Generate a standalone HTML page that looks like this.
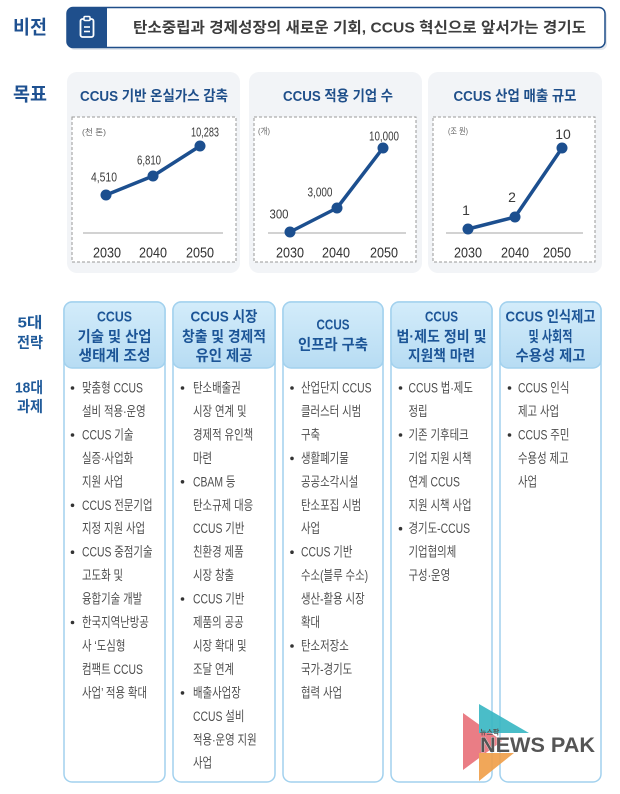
<!DOCTYPE html>
<html><head><meta charset="utf-8">
<style>
html,body{margin:0;padding:0;background:#fff;}
svg{display:block;}
text{font-family:"Liberation Sans","Noto Sans CJK KR",sans-serif;}
</style></head>
<body>
<svg width="620" height="794" viewBox="0 0 620 794" xmlns="http://www.w3.org/2000/svg">
<defs>
<linearGradient id="hg" x1="0" y1="0" x2="0" y2="1">
<stop offset="0" stop-color="#d3ecfa"/><stop offset="1" stop-color="#b7dcf3"/>
</linearGradient>
</defs>
<rect width="620" height="794" fill="#fff"/>

<!-- Vision -->
<text x="13" y="28" font-size="19" font-weight="bold" fill="#1f5191" dominant-baseline="central" textLength="34" lengthAdjust="spacingAndGlyphs">비전</text>
<rect x="69" y="10" width="538" height="40" rx="6" fill="#e4e8ee"/>
<rect x="67" y="7.5" width="538" height="40" rx="6" fill="#fff" stroke="#1f4e89" stroke-width="1.5"/>
<path d="M73,7.5 H107 V47.5 H73 A6,6 0 0 1 67,41.5 V13.5 A6,6 0 0 1 73,7.5 Z" fill="#1f4f8c"/>
<rect x="80.5" y="19" width="13" height="18" rx="2" fill="none" stroke="#fff" stroke-width="1.8"/>
<rect x="84" y="16.5" width="6" height="4" rx="1" fill="#1f4f8c" stroke="#fff" stroke-width="1.5"/>
<line x1="84" y1="27" x2="90" y2="27" stroke="#fff" stroke-width="1.6"/>
<line x1="84" y1="31.5" x2="90" y2="31.5" stroke="#fff" stroke-width="1.6"/>
<text x="133" y="28" font-size="15" font-weight="bold" fill="#3d3d3d" dominant-baseline="central" textLength="453" lengthAdjust="spacingAndGlyphs">탄소중립과 경제성장의 새로운 기회, CCUS 혁신으로 앞서가는 경기도</text>

<!-- Goals -->
<text x="13" y="95" font-size="19" font-weight="bold" fill="#1f5191" dominant-baseline="central" textLength="34" lengthAdjust="spacingAndGlyphs">목표</text>

<!-- Panel 1 -->
<rect x="67" y="72" width="173" height="201" rx="10" fill="#f2f4f7"/>
<text x="154" y="97" font-size="14.5" font-weight="bold" fill="#1f4f8a" text-anchor="middle" dominant-baseline="central" textLength="148" lengthAdjust="spacingAndGlyphs">CCUS 기반 온실가스 감축</text>
<rect x="72" y="117" width="164" height="145" fill="#fff" stroke="#9a9a9a" stroke-width="1" stroke-dasharray="3 2"/>
<text x="82" y="132" font-size="8.5" fill="#666" dominant-baseline="central" textLength="24" lengthAdjust="spacingAndGlyphs">(천 톤)</text>
<line x1="83" y1="233" x2="223" y2="233" stroke="#c4c4c4" stroke-width="1.5"/>
<polyline points="106,195 153,176 200,146" fill="none" stroke="#1c4f8f" stroke-width="3.5" stroke-linejoin="round"/>
<circle cx="106" cy="195" r="5.5" fill="#1c4f8f"/><circle cx="153" cy="176" r="5.5" fill="#1c4f8f"/><circle cx="200" cy="146" r="5.5" fill="#1c4f8f"/>
<g font-size="13" fill="#3a3a3a" text-anchor="middle" dominant-baseline="central">
<text x="104" y="177" textLength="26" lengthAdjust="spacingAndGlyphs">4,510</text>
<text x="149" y="160" textLength="24" lengthAdjust="spacingAndGlyphs">6,810</text>
<text x="205" y="132" textLength="28" lengthAdjust="spacingAndGlyphs">10,283</text>
</g>
<g font-size="15" fill="#333" text-anchor="middle" dominant-baseline="central">
<text x="107" y="253" textLength="28" lengthAdjust="spacingAndGlyphs">2030</text>
<text x="153" y="253" textLength="28" lengthAdjust="spacingAndGlyphs">2040</text>
<text x="200" y="253" textLength="28" lengthAdjust="spacingAndGlyphs">2050</text>
</g>

<!-- Panel 2 -->
<rect x="249" y="72" width="173" height="201" rx="10" fill="#f2f4f7"/>
<text x="338" y="97" font-size="14.5" font-weight="bold" fill="#1f4f8a" text-anchor="middle" dominant-baseline="central" textLength="110" lengthAdjust="spacingAndGlyphs">CCUS 적용 기업 수</text>
<rect x="254" y="117" width="162" height="145" fill="#fff" stroke="#9a9a9a" stroke-width="1" stroke-dasharray="3 2"/>
<text x="258" y="131" font-size="8.5" fill="#666" dominant-baseline="central" textLength="12" lengthAdjust="spacingAndGlyphs">(개)</text>
<line x1="268" y1="233" x2="406" y2="233" stroke="#c4c4c4" stroke-width="1.5"/>
<polyline points="290,232 337,208 383,148" fill="none" stroke="#1c4f8f" stroke-width="3.5" stroke-linejoin="round"/>
<circle cx="290" cy="232" r="5.5" fill="#1c4f8f"/><circle cx="337" cy="208" r="5.5" fill="#1c4f8f"/><circle cx="383" cy="148" r="5.5" fill="#1c4f8f"/>
<g font-size="13" fill="#3a3a3a" text-anchor="middle" dominant-baseline="central">
<text x="279" y="214" textLength="19" lengthAdjust="spacingAndGlyphs">300</text>
<text x="320" y="192" textLength="25" lengthAdjust="spacingAndGlyphs">3,000</text>
<text x="384" y="136" textLength="30" lengthAdjust="spacingAndGlyphs">10,000</text>
</g>
<g font-size="15" fill="#333" text-anchor="middle" dominant-baseline="central">
<text x="290" y="253" textLength="28" lengthAdjust="spacingAndGlyphs">2030</text>
<text x="336" y="253" textLength="28" lengthAdjust="spacingAndGlyphs">2040</text>
<text x="384" y="253" textLength="28" lengthAdjust="spacingAndGlyphs">2050</text>
</g>

<!-- Panel 3 -->
<rect x="428" y="72" width="174" height="201" rx="10" fill="#f2f4f7"/>
<text x="515" y="97" font-size="14.5" font-weight="bold" fill="#1f4f8a" text-anchor="middle" dominant-baseline="central" textLength="123" lengthAdjust="spacingAndGlyphs">CCUS 산업 매출 규모</text>
<rect x="433" y="117" width="162" height="145" fill="#fff" stroke="#9a9a9a" stroke-width="1" stroke-dasharray="3 2"/>
<text x="448" y="131" font-size="8.5" fill="#666" dominant-baseline="central" textLength="20" lengthAdjust="spacingAndGlyphs">(조 원)</text>
<line x1="446" y1="233" x2="583" y2="233" stroke="#c4c4c4" stroke-width="1.5"/>
<polyline points="468,229 515,217 562,148" fill="none" stroke="#1c4f8f" stroke-width="3.5" stroke-linejoin="round"/>
<circle cx="468" cy="229" r="5.5" fill="#1c4f8f"/><circle cx="515" cy="217" r="5.5" fill="#1c4f8f"/><circle cx="562" cy="148" r="5.5" fill="#1c4f8f"/>
<g font-size="14" fill="#3a3a3a" text-anchor="middle" dominant-baseline="central">
<text x="466" y="210">1</text>
<text x="512" y="197">2</text>
<text x="563" y="134">10</text>
</g>
<g font-size="15" fill="#333" text-anchor="middle" dominant-baseline="central">
<text x="468" y="253" textLength="28" lengthAdjust="spacingAndGlyphs">2030</text>
<text x="515" y="253" textLength="28" lengthAdjust="spacingAndGlyphs">2040</text>
<text x="557" y="253" textLength="28" lengthAdjust="spacingAndGlyphs">2050</text>
</g>

<!-- Left labels -->
<g font-size="15" font-weight="bold" fill="#1f5a9a" text-anchor="middle" dominant-baseline="central">
<text x="30" y="323" textLength="25" lengthAdjust="spacingAndGlyphs">5대</text>
<text x="30" y="343" textLength="26" lengthAdjust="spacingAndGlyphs">전략</text>
<text x="29" y="388" textLength="28" lengthAdjust="spacingAndGlyphs">18대</text>
<text x="30" y="407" textLength="26" lengthAdjust="spacingAndGlyphs">과제</text>
</g>

<!-- Columns -->
<g stroke="#a2d1ee" stroke-width="1.5" fill="#fff">
<rect x="64" y="302" width="101" height="480" rx="8"/>
<rect x="173" y="302" width="102" height="480" rx="8"/>
<rect x="283" y="302" width="100" height="480" rx="8"/>
<rect x="391" y="302" width="101" height="480" rx="8"/>
<rect x="500" y="302" width="101" height="480" rx="8"/>
</g>
<g stroke="#a2d1ee" stroke-width="1.5" fill="url(#hg)">
<rect x="64" y="302" width="101" height="66" rx="8"/>
<rect x="173" y="302" width="102" height="66" rx="8"/>
<rect x="283" y="302" width="100" height="66" rx="8"/>
<rect x="391" y="302" width="101" height="66" rx="8"/>
<rect x="500" y="302" width="101" height="66" rx="8"/>
</g>

<g font-size="15" font-weight="bold" fill="#1c5597" text-anchor="middle" dominant-baseline="central">
<text x="114.5" y="317" textLength="35" lengthAdjust="spacingAndGlyphs">CCUS</text>
<text x="114.5" y="337" textLength="74" lengthAdjust="spacingAndGlyphs">기술 및 산업</text>
<text x="114.5" y="356" textLength="72" lengthAdjust="spacingAndGlyphs">생태계 조성</text>
<text x="224" y="317" textLength="67" lengthAdjust="spacingAndGlyphs">CCUS 시장</text>
<text x="224" y="337" textLength="84" lengthAdjust="spacingAndGlyphs">창출 및 경제적</text>
<text x="224" y="356" textLength="57" lengthAdjust="spacingAndGlyphs">유인 제공</text>
<text x="333" y="325" textLength="33" lengthAdjust="spacingAndGlyphs">CCUS</text>
<text x="333" y="345" textLength="70" lengthAdjust="spacingAndGlyphs">인프라 구축</text>
<text x="441.5" y="317" textLength="33" lengthAdjust="spacingAndGlyphs">CCUS</text>
<text x="441.5" y="337" textLength="90" lengthAdjust="spacingAndGlyphs">법·제도 정비 및</text>
<text x="441.5" y="356" textLength="67" lengthAdjust="spacingAndGlyphs">지원책 마련</text>
<text x="550.5" y="317" textLength="90" lengthAdjust="spacingAndGlyphs">CCUS 인식제고</text>
<text x="550.5" y="337" textLength="44" lengthAdjust="spacingAndGlyphs">및 사회적</text>
<text x="550.5" y="356" textLength="70" lengthAdjust="spacingAndGlyphs">수용성 제고</text>
</g>

<!-- bullets -->
<g fill="#333">
<circle cx="72.5" cy="388" r="1.8"/><circle cx="72.5" cy="435" r="1.8"/><circle cx="72.5" cy="505.3" r="1.8"/><circle cx="72.5" cy="552.2" r="1.8"/><circle cx="72.5" cy="622.5" r="1.8"/>
<circle cx="182.5" cy="388" r="1.8"/><circle cx="182.5" cy="481.8" r="1.8"/><circle cx="182.5" cy="599" r="1.8"/><circle cx="182.5" cy="692.9" r="1.8"/>
<circle cx="292" cy="388" r="1.8"/><circle cx="292" cy="458.4" r="1.8"/><circle cx="292" cy="552.2" r="1.8"/><circle cx="292" cy="646" r="1.8"/>
<circle cx="400.5" cy="388" r="1.8"/><circle cx="400.5" cy="435" r="1.8"/><circle cx="400.5" cy="528.7" r="1.8"/>
<circle cx="509.5" cy="388" r="1.8"/><circle cx="509.5" cy="435" r="1.8"/>
</g>

<!-- body text -->
<g font-size="13.5" fill="#4d4d4d" dominant-baseline="central">
<g transform="translate(82,0) scale(0.77,1)">
<text x="0" y="388">맞춤형 CCUS</text>
<text x="0" y="411.5">설비 적용·운영</text>
<text x="0" y="435">CCUS 기술</text>
<text x="0" y="458.4">실증·사업화</text>
<text x="0" y="481.8">지원 사업</text>
<text x="0" y="505.3">CCUS 전문기업</text>
<text x="0" y="528.7">지정 지원 사업</text>
<text x="0" y="552.2">CCUS 중점기술</text>
<text x="0" y="575.6">고도화 및</text>
<text x="0" y="599">융합기술 개발</text>
<text x="0" y="622.5">한국지역난방공</text>
<text x="0" y="645.9">사 ‘도심형</text>
<text x="0" y="669.4">컴팩트 CCUS</text>
<text x="0" y="692.9">사업’ 적용 확대</text>
</g>
<g transform="translate(193,0) scale(0.77,1)">
<text x="0" y="388">탄소배출권</text>
<text x="0" y="411.5">시장 연계 및</text>
<text x="0" y="435">경제적 유인책</text>
<text x="0" y="458.4">마련</text>
<text x="0" y="481.8">CBAM 등</text>
<text x="0" y="505.3">탄소규제 대응</text>
<text x="0" y="528.7">CCUS 기반</text>
<text x="0" y="552.2">친환경 제품</text>
<text x="0" y="575.6">시장 창출</text>
<text x="0" y="599">CCUS 기반</text>
<text x="0" y="622.5">제품의 공공</text>
<text x="0" y="645.9">시장 확대 및</text>
<text x="0" y="669.4">조달 연계</text>
<text x="0" y="692.9">배출사업장</text>
<text x="0" y="716.3">CCUS 설비</text>
<text x="0" y="739.8">적용·운영 지원</text>
<text x="0" y="763.2">사업</text>
</g>
<g transform="translate(301,0) scale(0.77,1)">
<text x="0" y="388">산업단지 CCUS</text>
<text x="0" y="411.5">클러스터 시범</text>
<text x="0" y="435">구축</text>
<text x="0" y="458.4">생활폐기물</text>
<text x="0" y="481.8">공공소각시설</text>
<text x="0" y="505.3">탄소포집 시범</text>
<text x="0" y="528.7">사업</text>
<text x="0" y="552.2">CCUS 기반</text>
<text x="0" y="575.6">수소(블루 수소)</text>
<text x="0" y="599">생산-활용 시장</text>
<text x="0" y="622.5">확대</text>
<text x="0" y="646">탄소저장소</text>
<text x="0" y="669.4">국가-경기도</text>
<text x="0" y="692.9">협력 사업</text>
</g>
<g transform="translate(408.5,0) scale(0.77,1)">
<text x="0" y="388">CCUS 법·제도</text>
<text x="0" y="411.5">정립</text>
<text x="0" y="435">기존 기후테크</text>
<text x="0" y="458.4">기업 지원 시책</text>
<text x="0" y="481.8">연계 CCUS</text>
<text x="0" y="505.3">지원 시책 사업</text>
<text x="0" y="528.7">경기도-CCUS</text>
<text x="0" y="552.2">기업협의체</text>
<text x="0" y="575.6">구성·운영</text>
</g>
<g transform="translate(518,0) scale(0.77,1)">
<text x="0" y="388">CCUS 인식</text>
<text x="0" y="411.5">제고 사업</text>
<text x="0" y="435">CCUS 주민</text>
<text x="0" y="458.4">수용성 제고</text>
<text x="0" y="481.8">사업</text>
</g>
</g>

<!-- Logo -->
<g opacity="0.92">
<polygon points="463,713 502,741 463,770" fill="#e9737b"/>
<polygon points="479,704 529,733 479,733" fill="#3bb8c4"/>
<polygon points="479,753 514,753 479,781" fill="#f0a04b"/>
</g>
<text x="480" y="733" font-size="7" font-weight="bold" fill="#555" dominant-baseline="central">뉴스팍</text>
<text x="480" y="752" font-size="21" font-weight="bold" fill="#555" stroke="#fff" stroke-width="0.6" paint-order="stroke" textLength="115" lengthAdjust="spacingAndGlyphs">NEWS PAK</text>
</svg>
</body></html>
